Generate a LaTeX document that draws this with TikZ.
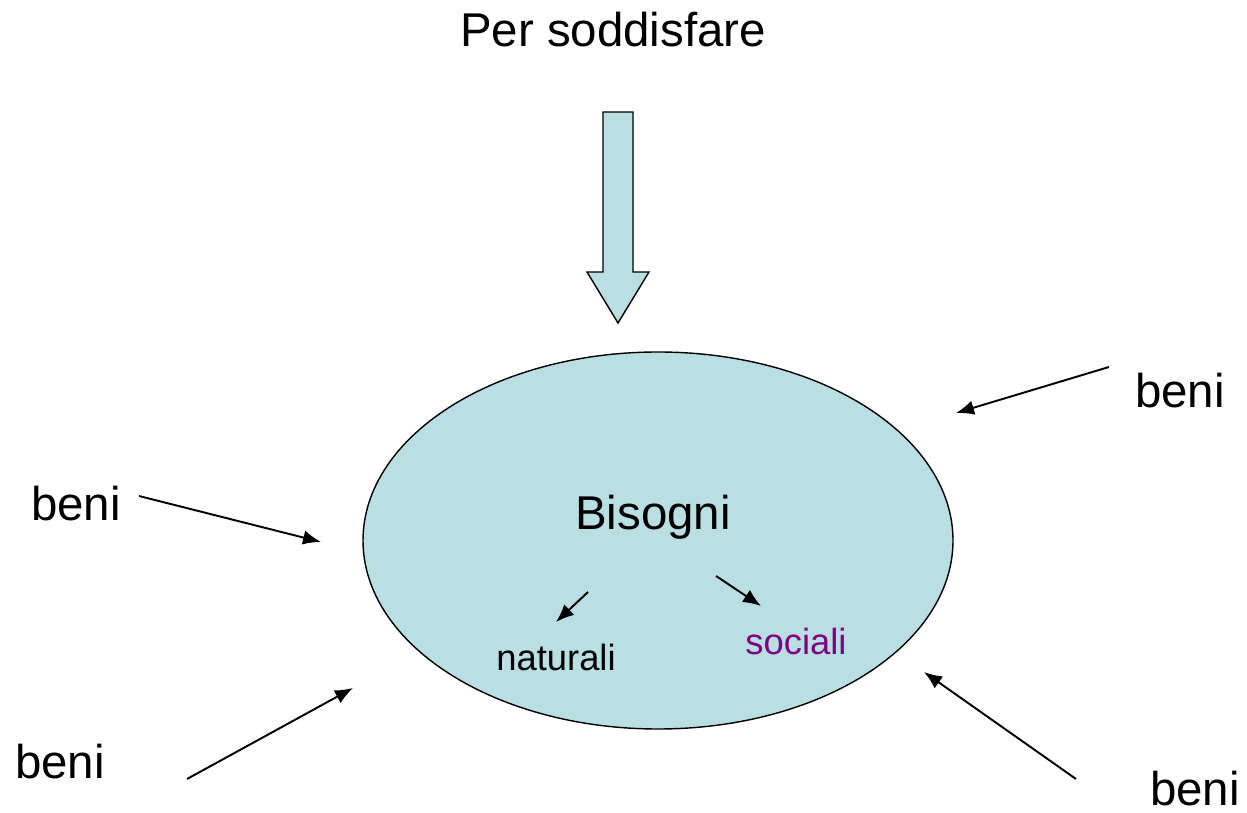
\documentclass[tikz,border=0pt]{standalone}
\usepackage{fontspec}
\setmainfont{Liberation Sans}
\usetikzlibrary{arrows.meta}
\definecolor{bisognifill}{RGB}{185,223,227}
\definecolor{socialicol}{RGB}{128,0,128}

\begin{document}
\begin{tikzpicture}[x=0.02cm,y=-0.02cm,-{Latex[length=3.6mm,width=2.9mm]},
line width=1.1pt, big/.style ={font=\fontsize{27}{32}\selectfont,anchor=base,inner sep=0pt},
small/.style ={font=\fontsize{20.7}{25}\selectfont,anchor=base,inner sep=0pt}]

\useasboundingbox (0,0) rectangle (1247,813);

\draw[-,line width=0.8pt,fill=bisognifill] (658,540.5) ellipse [x radius=295,y radius=188.5];

% freccia grande
\draw[-,line width=0.8pt,fill=bisognifill] (603,112) -- (633,112) -- (633,272) -- (649,272)
 -- (618,323) -- (587,272) -- (603,272) -- cycle;

\node[big] (T) at (613,47) {Per soddisfare};
\node[big] (B) at (653,530) {Bisogni};
\node[small] (N) at (556,670) {naturali};
\node[small,text=socialicol] (S) at (796,654) {sociali};

\node[big] (B1) at (1180,408) {beni};
\node[big] (B2) at (76,521) {beni};
\node[big] (B3) at (60,778) {beni};
\node[big] (B4) at (1195,805) {beni};

\coordinate (a1) at (1109,367);
\coordinate (a2) at (956,413);
\coordinate (b1) at (139,496);
\coordinate (b2) at (321,542);
\coordinate (c1) at (187,779);
\coordinate (c2) at (353,688);
\coordinate (d1) at (1076,779);
\coordinate (d2) at (924,672);
\coordinate (n1) at (588,592);
\coordinate (n2) at (556,622);
\coordinate (s1) at (716,576);
\coordinate (s2) at (761,606);

\path (a1) edge (a2);
\path (b1) edge (b2);
\path (c1) edge (c2);
\path (d1) edge (d2);
\path (n1) edge (n2);
\path (s1) edge (s2);

\end{tikzpicture}
\end{document}
